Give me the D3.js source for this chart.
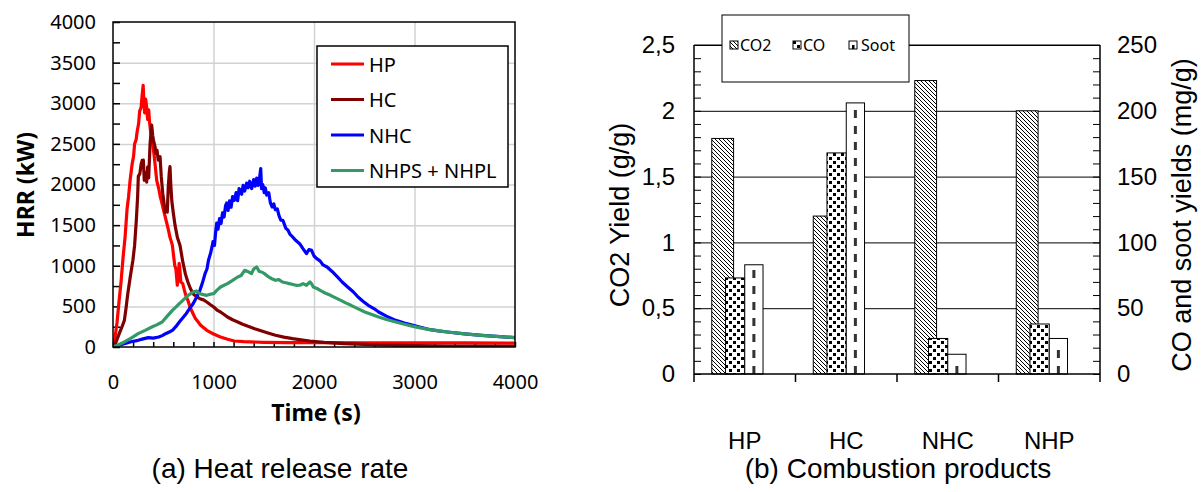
<!DOCTYPE html>
<html>
<head>
<meta charset="utf-8">
<script src="https://cdn.jsdelivr.net/npm/d3@7"></script>
<style>
  body { margin: 0; background: #fff; }
</style>
<script>
// (a) heat release rate curves, [time (s), HRR (kW)]
const hp = [[0,0],[20,120],[40,300],[60,560],[80,800],[100,1100],[120,1350],[140,1700],[155,1850],[170,2050],
            [190,2250],[205,2350],[215,2500],[230,2550],[240,2650],[255,2750],[265,2900],[280,2950],[290,3100],
            [300,3220],[308,3000],[315,2880],[325,3050],[335,2950],[345,2800],[355,2920],[365,2750],[380,2600],
            [395,2500],[410,2350],[435,2050],[455,1950],[470,1850],[485,1780],[500,1700],[520,1600],[540,1500],
            [555,1420],[567,1350],[580,1300],[591,1250],[605,1100],[615,1000],[626,960],[640,760],[650,880],
            [658,1030],[665,960],[675,800],[694,780],[710,700],[728,620],[745,574],[770,480],[797,410],[820,350],
            [848,308],[870,270],[890,250],[933,205],[970,180],[1000,160],[1070,123],[1140,95],[1207,74],[1300,65],
            [1500,58],[1750,55],[2000,55],[2500,52],[3000,50],[3500,50],[4000,48]];
const hc = [[0,0],[30,60],[62,164],[90,250],[113,328],[130,480],[147,656],[170,850],[198,1067],[215,1250],
            [232,1559],[245,1850],[252,2100],[267,2134],[280,2250],[291,2298],[302,2300],[311,2052],[320,2150],
            [335,2030],[345,2216],[355,2080],[369,2503],[385,2732],[395,2600],[403,2544],[418,2465],[428,2380],
            [438,2421],[450,2300],[468,2342],[480,2100],[495,1890],[505,1800],[517,1660],[530,1700],[540,1660],
            [550,1969],[560,2150],[567,2219],[575,2000],[585,1800],[600,1650],[617,1500],[640,1350],[667,1250],
            [694,1050],[720,900],[745,800],[770,720],[797,656],[830,620],[865,595],[900,580],[933,554],[970,520],
            [1002,492],[1040,450],[1070,431],[1105,400],[1139,369],[1190,335],[1241,308],[1290,280],[1344,254],
            [1410,225],[1480,197],[1550,170],[1617,144],[1700,122],[1788,103],[1870,88],[1959,74],[2100,58],
            [2301,41],[2500,32],[2643,25],[3000,18],[3327,12],[3700,10],[4000,8]];
const nhc = [[0,0],[50,20],[113,41],[180,65],[250,82],[300,100],[352,115],[400,110],[455,123],[490,140],
             [523,164],[560,185],[591,205],[625,250],[660,308],[695,360],[728,410],[760,470],[797,533],[830,610],
             [865,697],[890,790],[916,903],[935,960],[950,1067],[970,1150],[985,1231],[995,1296],[1010,1250],
             [1020,1400],[1032,1526],[1045,1450],[1060,1580],[1075,1520],[1090,1650],[1105,1600],[1120,1740],
             [1131,1772],[1145,1680],[1160,1800],[1175,1720],[1190,1850],[1207,1805],[1225,1900],[1240,1800],
             [1255,1950],[1264,1932],[1280,1880],[1295,1990],[1310,1920],[1330,2018],[1345,1960],[1360,2040],
             [1380,1950],[1400,2060],[1415,1980],[1430,2080],[1445,1990],[1455,2050],[1470,2195],[1478,1950],
             [1490,2000],[1505,1900],[1515,1960],[1530,1870],[1550,1900],[1565,1780],[1583,1723],[1600,1760],
             [1615,1690],[1635,1700],[1651,1620],[1670,1560],[1690,1560],[1720,1460],[1740,1440],[1760,1390],
             [1788,1354],[1820,1310],[1857,1272],[1890,1210],[1925,1149],[1950,1200],[1976,1190],[2000,1120],
             [2027,1087],[2060,1060],[2090,1010],[2130,985],[2180,930],[2233,862],[2280,800],[2335,739],
             [2390,680],[2438,615],[2490,560],[2540,513],[2600,470],[2643,431],[2720,380],[2814,328],[2900,295],
             [2985,267],[3070,240],[3156,213],[3240,198],[3327,185],[3500,162],[3669,144],[3850,128],[4000,115]];
const nhp = [[0,0],[50,25],[113,62],[180,110],[250,164],[320,205],[386,246],[440,275],[489,308],[540,380],
             [591,451],[625,490],[660,533],[695,575],[728,615],[760,645],[797,677],[830,690],[865,656],[900,645],
             [933,636],[970,650],[1002,656],[1035,700],[1070,738],[1105,760],[1139,780],[1190,820],[1241,862],
             [1275,880],[1310,944],[1340,930],[1378,903],[1400,960],[1429,985],[1455,930],[1480,923],[1510,900],
             [1549,862],[1580,840],[1617,821],[1650,830],[1686,800],[1720,790],[1754,780],[1790,770],[1822,759],
             [1860,760],[1891,780],[1925,760],[1959,800],[1975,780],[1993,738],[2030,720],[2062,697],[2110,665],
             [2164,636],[2215,605],[2267,574],[2320,540],[2369,513],[2440,470],[2506,431],[2575,400],[2643,369],
             [2730,335],[2814,308],[2900,280],[2985,254],[3070,232],[3156,213],[3240,198],[3327,185],[3500,162],
             [3669,144],[3850,128],[4000,115]];
const hrrNames = ["HP", "HC", "NHC", "NHPS + NHPL"];
const hrrColors = ["#ff0000", "#800000", "#0000ff", "#339966"];
const hrrTicks = [0, 500, 1000, 1500, 2000, 2500, 3000, 3500, 4000];
const timeTicks = [0, 1000, 2000, 3000, 4000];

// (b) combustion products
const categories = ["HP", "HC", "NHC", "NHP"];
const co2Yield = [1.79, 1.20, 2.23, 2.00];   // g/g, left axis
const coYield = [73, 168, 27, 38];           // mg/g, right axis
const sootYield = [83, 206, 15, 27];         // mg/g, right axis
const co2Ticks = [0, 0.5, 1, 1.5, 2, 2.5];
const coTicks = [0, 50, 100, 150, 200, 250];
const yieldNames = ["CO2", "CO", "Soot"];

function makeSVG() {

    var svg = d3.select("#fig");

    const tahoma = "'Noto Sans', 'DejaVu Sans', sans-serif";
    const narrow = "'Liberation Sans Narrow', 'Arial Narrow', 'Liberation Sans', sans-serif";
    const arial = "'Liberation Sans', Arial, sans-serif";

    svg.append("rect").attr("width", 1203).attr("height", 492).attr("fill", "#fff");

    // ---------------- (a) HRR ----------------
    const xSc = d3.scaleLinear().domain([0, 4000]).range([113, 515]);
    const ySc = d3.scaleLinear().domain([0, 4000]).range([347, 22]);

    var ga = svg.append("g");

    // grid
    ga.append("g").attr("transform", "translate(0,347)")
      .call(d3.axisBottom(xSc).tickValues([1000, 2000, 3000]).tickSize(-325).tickFormat(""))
      .call(g => g.select(".domain").remove())
      .selectAll("line").attr("stroke", "#d2d2d2").attr("stroke-width", 1.5);
    ga.append("g").attr("transform", "translate(113,0)")
      .call(d3.axisLeft(ySc).tickValues(hrrTicks.slice(1, -1)).tickSize(-402).tickFormat(""))
      .call(g => g.select(".domain").remove())
      .selectAll("line").attr("stroke", "#d2d2d2").attr("stroke-width", 1.5);

    // minor ticks
    ga.append("g").attr("transform", "translate(113,0)")
      .call(d3.axisLeft(ySc).tickValues(d3.range(0, 4001, 250)).tickSize(-7).tickFormat(""))
      .call(g => g.select(".domain").remove())
      .selectAll("line").attr("stroke", "#000").attr("stroke-width", 1.5);
    ga.append("g").attr("transform", "translate(0,347)")
      .call(d3.axisBottom(xSc).tickValues(d3.range(0, 4001, 200)).tickSize(-5).tickFormat(""))
      .call(g => g.select(".domain").remove())
      .selectAll("line").attr("stroke", "#000").attr("stroke-width", 1.5);

    // curves
    ga.append("clipPath").attr("id", "clipA")
      .append("rect").attr("x", 113).attr("y", 22).attr("width", 402).attr("height", 325);
    const lnMkr = d3.line().x(d => xSc(d[0])).y(d => ySc(d[1]));
    [hp, hc, nhc, nhp].forEach((ds, i) => {
        ga.append("path")
          .attr("d", lnMkr(ds))
          .attr("clip-path", "url(#clipA)")
          .attr("fill", "none")
          .attr("stroke", hrrColors[i])
          .attr("stroke-width", 3.2)
          .attr("stroke-linejoin", "round");
    });

    // frame
    ga.append("rect").attr("x", 113).attr("y", 22).attr("width", 402).attr("height", 325)
      .attr("fill", "none").attr("stroke", "#000").attr("stroke-width", 1.5);

    // tick labels
    ga.append("g").attr("transform", "translate(113,0)")
      .call(d3.axisLeft(ySc).tickValues(hrrTicks).tickSize(0).tickPadding(17).tickFormat(d3.format("d")))
      .call(g => g.select(".domain").remove())
      .selectAll("text").attr("font-family", tahoma).attr("font-size", 20).attr("fill", "#000");
    ga.append("g").attr("transform", "translate(0,347)")
      .call(d3.axisBottom(xSc).tickValues(timeTicks).tickSize(0).tickPadding(28).tickFormat(d3.format("d")))
      .call(g => g.select(".domain").remove())
      .selectAll("text").attr("font-family", tahoma).attr("font-size", 20).attr("fill", "#000");

    // titles
    ga.append("text").attr("transform", "translate(25,185) rotate(-90)")
      .attr("text-anchor", "middle").attr("dominant-baseline", "central")
      .attr("font-family", tahoma).attr("font-weight", "bold").attr("font-size", 23)
      .text("HRR (kW)");
    ga.append("text").attr("x", 316).attr("y", 421)
      .attr("text-anchor", "middle")
      .attr("font-family", tahoma).attr("font-weight", "bold").attr("font-size", 23)
      .text("Time (s)");

    // legend
    var lg = ga.append("g");
    lg.append("rect").attr("x", 317).attr("y", 46).attr("width", 191).attr("height", 141)
      .attr("fill", "#fff").attr("stroke", "#000").attr("stroke-width", 1.5);
    hrrNames.forEach((n, i) => {
        const yy = 64 + i * 35.5;
        lg.append("line").attr("x1", 331).attr("x2", 364).attr("y1", yy).attr("y2", yy)
          .attr("stroke", hrrColors[i]).attr("stroke-width", 3);
        lg.append("text").attr("x", 369).attr("y", yy).attr("dominant-baseline", "central")
          .attr("font-family", tahoma).attr("font-size", 20).text(n);
    });

    // ---------------- (b) yields ----------------
    const bSc = d3.scaleBand().domain(categories).range([694, 1100]);
    const yL = d3.scaleLinear().domain([0, 2.5]).range([374, 45]);
    const yR = d3.scaleLinear().domain([0, 250]).range([374, 45]);
    const bw = bSc.bandwidth();

    var defs = svg.append("defs");
    var p1 = defs.append("pattern").attr("id", "hatch").attr("patternUnits", "userSpaceOnUse")
                 .attr("width", 4).attr("height", 4);
    p1.append("rect").attr("width", 4).attr("height", 4).attr("fill", "#fff");
    p1.append("path").attr("d", "M-1,-1L5,5M3,-1L5,1M-1,3L1,5").attr("stroke", "#000").attr("stroke-width", 1);
    var p2 = defs.append("pattern").attr("id", "dots").attr("patternUnits", "userSpaceOnUse")
                 .attr("width", 8).attr("height", 8);
    p2.append("rect").attr("width", 8).attr("height", 8).attr("fill", "#fff");
    p2.append("rect").attr("x", 1).attr("y", 1).attr("width", 3).attr("height", 3).attr("fill", "#000");
    p2.append("rect").attr("x", 5).attr("y", 5).attr("width", 3).attr("height", 3).attr("fill", "#000");

    var gb = svg.append("g");

    // grid
    gb.append("g").attr("transform", "translate(694,0)")
      .call(d3.axisLeft(yL).tickValues(co2Ticks.slice(1)).tickSize(-406).tickFormat(""))
      .call(g => g.select(".domain").remove())
      .selectAll("line").attr("stroke", "#000").attr("stroke-width", 1);

    // bars: CO2 on left axis, CO and soot on right axis
    const offs = { CO2: [0.175, 0.39], CO: [0.31, 0.5], Soot: [0.5, 0.68] };
    const rows = categories.map((c, i) => ({ c: c, co2: co2Yield[i], co: coYield[i], soot: sootYield[i] }));

    gb.selectAll(".co2").data(rows).enter().append("rect")
      .attr("x", d => bSc(d.c) + offs.CO2[0] * bw)
      .attr("width", (offs.CO2[1] - offs.CO2[0]) * bw)
      .attr("y", d => yL(d.co2)).attr("height", d => yL(0) - yL(d.co2))
      .attr("fill", "url(#hatch)").attr("stroke", "#000").attr("stroke-width", 1);
    gb.selectAll(".co").data(rows).enter().append("rect")
      .attr("x", d => bSc(d.c) + offs.CO[0] * bw)
      .attr("width", (offs.CO[1] - offs.CO[0]) * bw)
      .attr("y", d => yR(d.co)).attr("height", d => yR(0) - yR(d.co))
      .attr("fill", "url(#dots)").attr("stroke", "#000").attr("stroke-width", 1);
    gb.selectAll(".soot").data(rows).enter().append("rect")
      .attr("x", d => bSc(d.c) + offs.Soot[0] * bw)
      .attr("width", (offs.Soot[1] - offs.Soot[0]) * bw)
      .attr("y", d => yR(d.soot)).attr("height", d => yR(0) - yR(d.soot))
      .attr("fill", "#fff").attr("stroke", "#000").attr("stroke-width", 1);
    gb.selectAll(".sootdash").data(rows).enter().append("line")
      .attr("x1", d => bSc(d.c) + (offs.Soot[0] + offs.Soot[1]) / 2 * bw)
      .attr("x2", d => bSc(d.c) + (offs.Soot[0] + offs.Soot[1]) / 2 * bw)
      .attr("y1", yR(0)).attr("y2", d => yR(d.soot) + 4)
      .attr("stroke", "#333").attr("stroke-width", 3).attr("stroke-dasharray", "8,8");

    // frame
    gb.append("line").attr("x1", 694).attr("x2", 1100).attr("y1", 45).attr("y2", 45).attr("stroke", "#000");
    gb.append("line").attr("x1", 694).attr("x2", 694).attr("y1", 45).attr("y2", 382).attr("stroke", "#000").attr("stroke-width", 1.5);
    gb.append("line").attr("x1", 1100).attr("x2", 1100).attr("y1", 45).attr("y2", 382).attr("stroke", "#000").attr("stroke-width", 1.5);
    gb.append("line").attr("x1", 694).attr("x2", 1100).attr("y1", 374).attr("y2", 374).attr("stroke", "#000").attr("stroke-width", 1.5);
    gb.selectAll(".catTick").data(categories.slice(1)).enter().append("line")
      .attr("x1", d => bSc(d)).attr("x2", d => bSc(d)).attr("y1", 374).attr("y2", 382)
      .attr("stroke", "#000").attr("stroke-width", 1.5);

    // minor ticks
    gb.append("g").attr("transform", "translate(694,0)")
      .call(d3.axisLeft(yL).tickValues(d3.range(0, 26).map(v => v / 10)).tickSize(-7).tickFormat(""))
      .call(g => g.select(".domain").remove())
      .selectAll("line").attr("stroke", "#000");
    gb.append("g").attr("transform", "translate(1100,0)")
      .call(d3.axisRight(yR).tickValues(d3.range(0, 251, 10)).tickSize(-7).tickFormat(""))
      .call(g => g.select(".domain").remove())
      .selectAll("line").attr("stroke", "#000");

    // tick labels
    gb.append("g").attr("transform", "translate(694,0)")
      .call(d3.axisLeft(yL).tickValues(co2Ticks).tickSize(0).tickPadding(19)
              .tickFormat(d => String(d).replace(".", ",")))
      .call(g => g.select(".domain").remove())
      .selectAll("text").attr("font-family", narrow).attr("font-size", 24).attr("fill", "#000");
    gb.append("g").attr("transform", "translate(1100,0)")
      .call(d3.axisRight(yR).tickValues(coTicks).tickSize(0).tickPadding(17))
      .call(g => g.select(".domain").remove())
      .selectAll("text").attr("font-family", narrow).attr("font-size", 24).attr("fill", "#000");
    gb.append("g").attr("transform", "translate(0,374)")
      .call(d3.axisBottom(bSc).tickSize(0).tickPadding(58))
      .call(g => g.select(".domain").remove())
      .selectAll("text").attr("font-family", narrow).attr("font-size", 24).attr("fill", "#000");

    // axis titles
    gb.append("text").attr("transform", "translate(620,215) rotate(-90)")
      .attr("text-anchor", "middle").attr("dominant-baseline", "central")
      .attr("font-family", arial).attr("font-size", 27).text("CO2 Yield (g/g)");
    gb.append("text").attr("transform", "translate(1182,215) rotate(-90)")
      .attr("text-anchor", "middle").attr("dominant-baseline", "central")
      .attr("font-family", arial).attr("font-size", 27).text("CO and soot yields (mg/g)");

    // legend
    var lb = gb.append("g");
    lb.append("rect").attr("x", 722).attr("y", 15).attr("width", 187).attr("height", 67)
      .attr("fill", "#fff").attr("stroke", "#000").attr("stroke-width", 1);
    const swX = [730, 793, 849];
    const txX = [739, 802, 860];
    yieldNames.forEach((n, i) => {
        lb.append("rect").attr("x", swX[i]).attr("y", 41).attr("width", 8).attr("height", 8)
          .attr("fill", i == 0 ? "url(#hatch)" : i == 1 ? "url(#dots)" : "#fff")
          .attr("stroke", "#000").attr("stroke-width", 1);
        if (i == 2) lb.append("rect").attr("x", swX[i] + 3).attr("y", 45).attr("width", 2.5)
                      .attr("height", 4).attr("fill", "#000");
        lb.append("text").attr("x", txX[i] + 1).attr("y", 45).attr("dominant-baseline", "central")
          .attr("font-family", tahoma).attr("font-size", 16).text(n);
    });

    // captions
    svg.append("text").attr("x", 280).attr("y", 468).attr("text-anchor", "middle")
       .attr("dominant-baseline", "central").attr("font-family", arial).attr("font-size", 28)
       .text("(a) Heat release rate");
    svg.append("text").attr("x", 898).attr("y", 468).attr("text-anchor", "middle")
       .attr("dominant-baseline", "central").attr("font-family", arial).attr("font-size", 28)
       .text("(b) Combustion products");
}
</script>
</head>
<body onload="makeSVG()">
<svg id="fig" width="1203" height="492"></svg>
</body>
</html>
